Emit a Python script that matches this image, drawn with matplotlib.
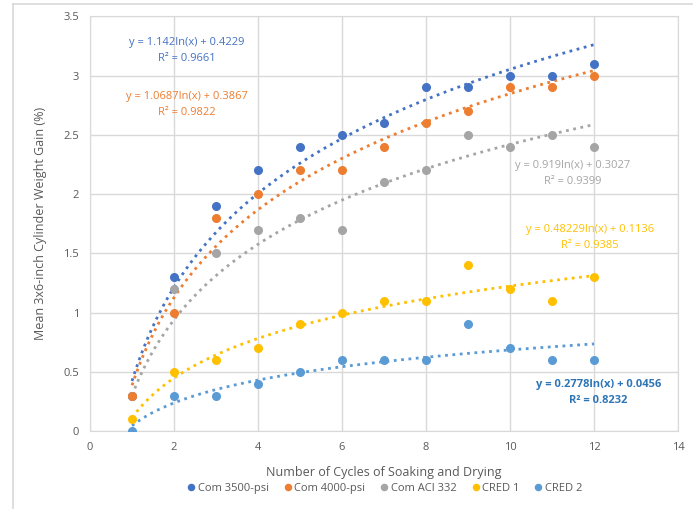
import numpy as np
import matplotlib.pyplot as plt
from matplotlib.lines import Line2D

plt.rcParams['font.family'] = ['Open Sans', 'DejaVu Sans']

# Number of soaking / drying cycles
cycles = [1, 2, 3, 4, 5, 6, 7, 8, 9, 10, 11, 12]

# Mean weight gain (%) for each mix
com_3500 = [0.3, 1.3, 1.9, 2.2, 2.4, 2.5, 2.6, 2.9, 2.9, 3.0, 3.0, 3.1]
com_4000 = [0.3, 1.0, 1.8, 2.0, 2.2, 2.2, 2.4, 2.6, 2.7, 2.9, 2.9, 3.0]
com_aci = [0.3, 1.2, 1.5, 1.7, 1.8, 1.7, 2.1, 2.2, 2.5, 2.4, 2.5, 2.4]
cred_1 = [0.1, 0.5, 0.6, 0.7, 0.9, 1.0, 1.1, 1.1, 1.4, 1.2, 1.1, 1.3]
cred_2 = [0.0, 0.3, 0.3, 0.4, 0.5, 0.6, 0.6, 0.6, 0.9, 0.7, 0.6, 0.6]

names = ['Com 3500-psi', 'Com 4000-psi', 'Com ACI 332', 'CRED 1', 'CRED 2']
series = [com_3500, com_4000, com_aci, cred_1, cred_2]
colors = ['#4472C4', '#ED7D31', '#A5A5A5', '#FFC000', '#5B9BD5']

# Log trendline coefficients shown on the chart: y = a*ln(x) + b
trend_a = [1.142, 1.0687, 0.919, 0.4822, 0.2778]
trend_b = [0.4229, 0.3867, 0.3027, 0.1136, 0.0456]
trend_r2 = ['0.9661', '0.9822', '0.9399', '0.9385', '0.8232']
trend_a_txt = ['1.142', '1.0687', '0.919', '0.48229', '0.2778']
trend_b_txt = ['0.4229', '0.3867', '0.3027', '0.1136', '0.0456']

# Where each equation label sits (data coords) and its colour
label_pos = [(2.3, 3.28), (2.3, 2.82), (11.5, 2.24), (11.9, 1.7), (12.1, 0.39)]
label_col = ['#4472C4', '#ED7D31', '#A5A5A5', '#FFC000', '#2E75B6']

fig = plt.figure(figsize=(6.99, 5.09), dpi=100)
ax = fig.add_axes([0.1288, 0.153, 0.8412, 0.815])

# outer chart frame
fig.add_artist(Line2D([0.019, 0.99], [0.992, 0.992], color='#D9D9D9', lw=1.2, transform=fig.transFigure))
fig.add_artist(Line2D([0.019, 0.019], [0.0, 0.992], color='#D9D9D9', lw=1.2, transform=fig.transFigure))

xs = np.linspace(1, 12, 200)
for i in range(len(series)):
    ax.plot(xs, trend_a[i] * np.log(xs) + trend_b[i], ':', color=colors[i], lw=2.0, zorder=2)
    # orange points sit on top where they overlap
    z = 4 if i == 1 else 3
    ax.plot(cycles, series[i], 'o', color=colors[i], ms=5.5, label=names[i], zorder=z)

for i in range(len(series)):
    x, y = label_pos[i]
    bold = 'bold' if i == 4 else 'normal'
    ax.text(x, y, f'y = {trend_a_txt[i]}ln(x) + {trend_b_txt[i]}', color=label_col[i],
            ha='center', va='center', fontsize=8, fontweight=bold)
    ax.text(x, y - 0.135, f'R² = {trend_r2[i]}', color=label_col[i],
            ha='center', va='center', fontsize=8, fontweight=bold)

ax.set_xlim(0, 14)
ax.set_ylim(0, 3.5)
ax.set_xticks(range(0, 15, 2))
ax.set_yticks([0, 0.5, 1, 1.5, 2, 2.5, 3, 3.5])
ax.set_yticklabels(['0', '0.5', '1', '1.5', '2', '2.5', '3', '3.5'])
ax.tick_params(length=0, labelsize=8, colors='#595959', pad=8)
ax.grid(True, color='#D9D9D9', lw=1.0, zorder=0)
ax.set_axisbelow(True)
for s in ax.spines.values():
    s.set_color('#D9D9D9')

ax.set_xlabel('Number of Cycles of Soaking and Drying', fontsize=9, color='#595959', labelpad=9)
ax.set_ylabel('Mean 3x6-inch Cylinder Weight Gain (%)', fontsize=9, color='#595959', labelpad=12)

ax.legend(loc='upper center', bbox_to_anchor=(0.5, -0.1), ncol=5, frameon=False,
          fontsize=8, handletextpad=0.1, columnspacing=1.2, handlelength=1.0,
          labelcolor='#595959', markerscale=0.8)

plt.savefig('out.png', dpi=100)
